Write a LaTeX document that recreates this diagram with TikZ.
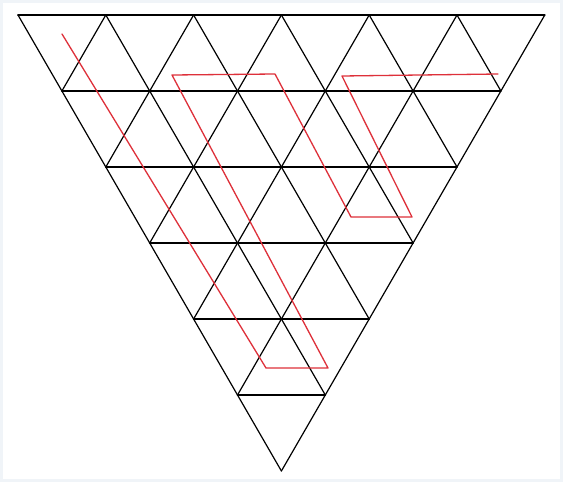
\documentclass[tikz,border=0pt]{standalone}
\definecolor{pathred}{RGB}{222,48,58}
\definecolor{frame}{RGB}{240,244,248}
\begin{document}
\begin{tikzpicture}[x=1pt, y=-1pt, line join=round, line cap=round]
			\fill[frame] (0,0) rectangle (563,482);
			\fill[white] (3,3) rectangle (560,479);
			% lattice points, row r, index i
			\foreach \r in {0,...,6}{
				\pgfmathtruncatemacro\n{6-\r}
				\foreach \i in {0,...,\n}{
					\coordinate (p\r-\i) at ({18+43.9*\r+87.8*\i},{15+76*\r});
				}
			}
			\foreach \r in {0,...,5}{
				\pgfmathtruncatemacro\n{6-\r}
				\draw[line width=1.6pt] (p\r-0) -- (p\r-\n);
			}
			\foreach \k in {0,...,5}{
				\pgfmathtruncatemacro\m{6-\k}
				\draw[line width=1.2pt] (p0-\k) -- (p\m-\k);
			}
			\foreach \k in {1,...,6}{
				\draw[line width=1.2pt] (p0-\k) -- (p\k-0);
			}
			\coordinate (S) at (62,34);
			\coordinate (A) at (266,368);
			\coordinate (B) at (328,368);
			\coordinate (C) at (172,75);
			\coordinate (D) at (275,74);
			\coordinate (E) at (351,217);
			\coordinate (F) at (412,217);
			\coordinate (G) at (342,76);
			\coordinate (T) at (498,74);
			\draw[pathred, line width=1.3pt] (S) -- (A) -- (B) -- (C) -- (D) -- (E) -- (F) -- (G) -- (T);
		\end{tikzpicture}
\end{document}
